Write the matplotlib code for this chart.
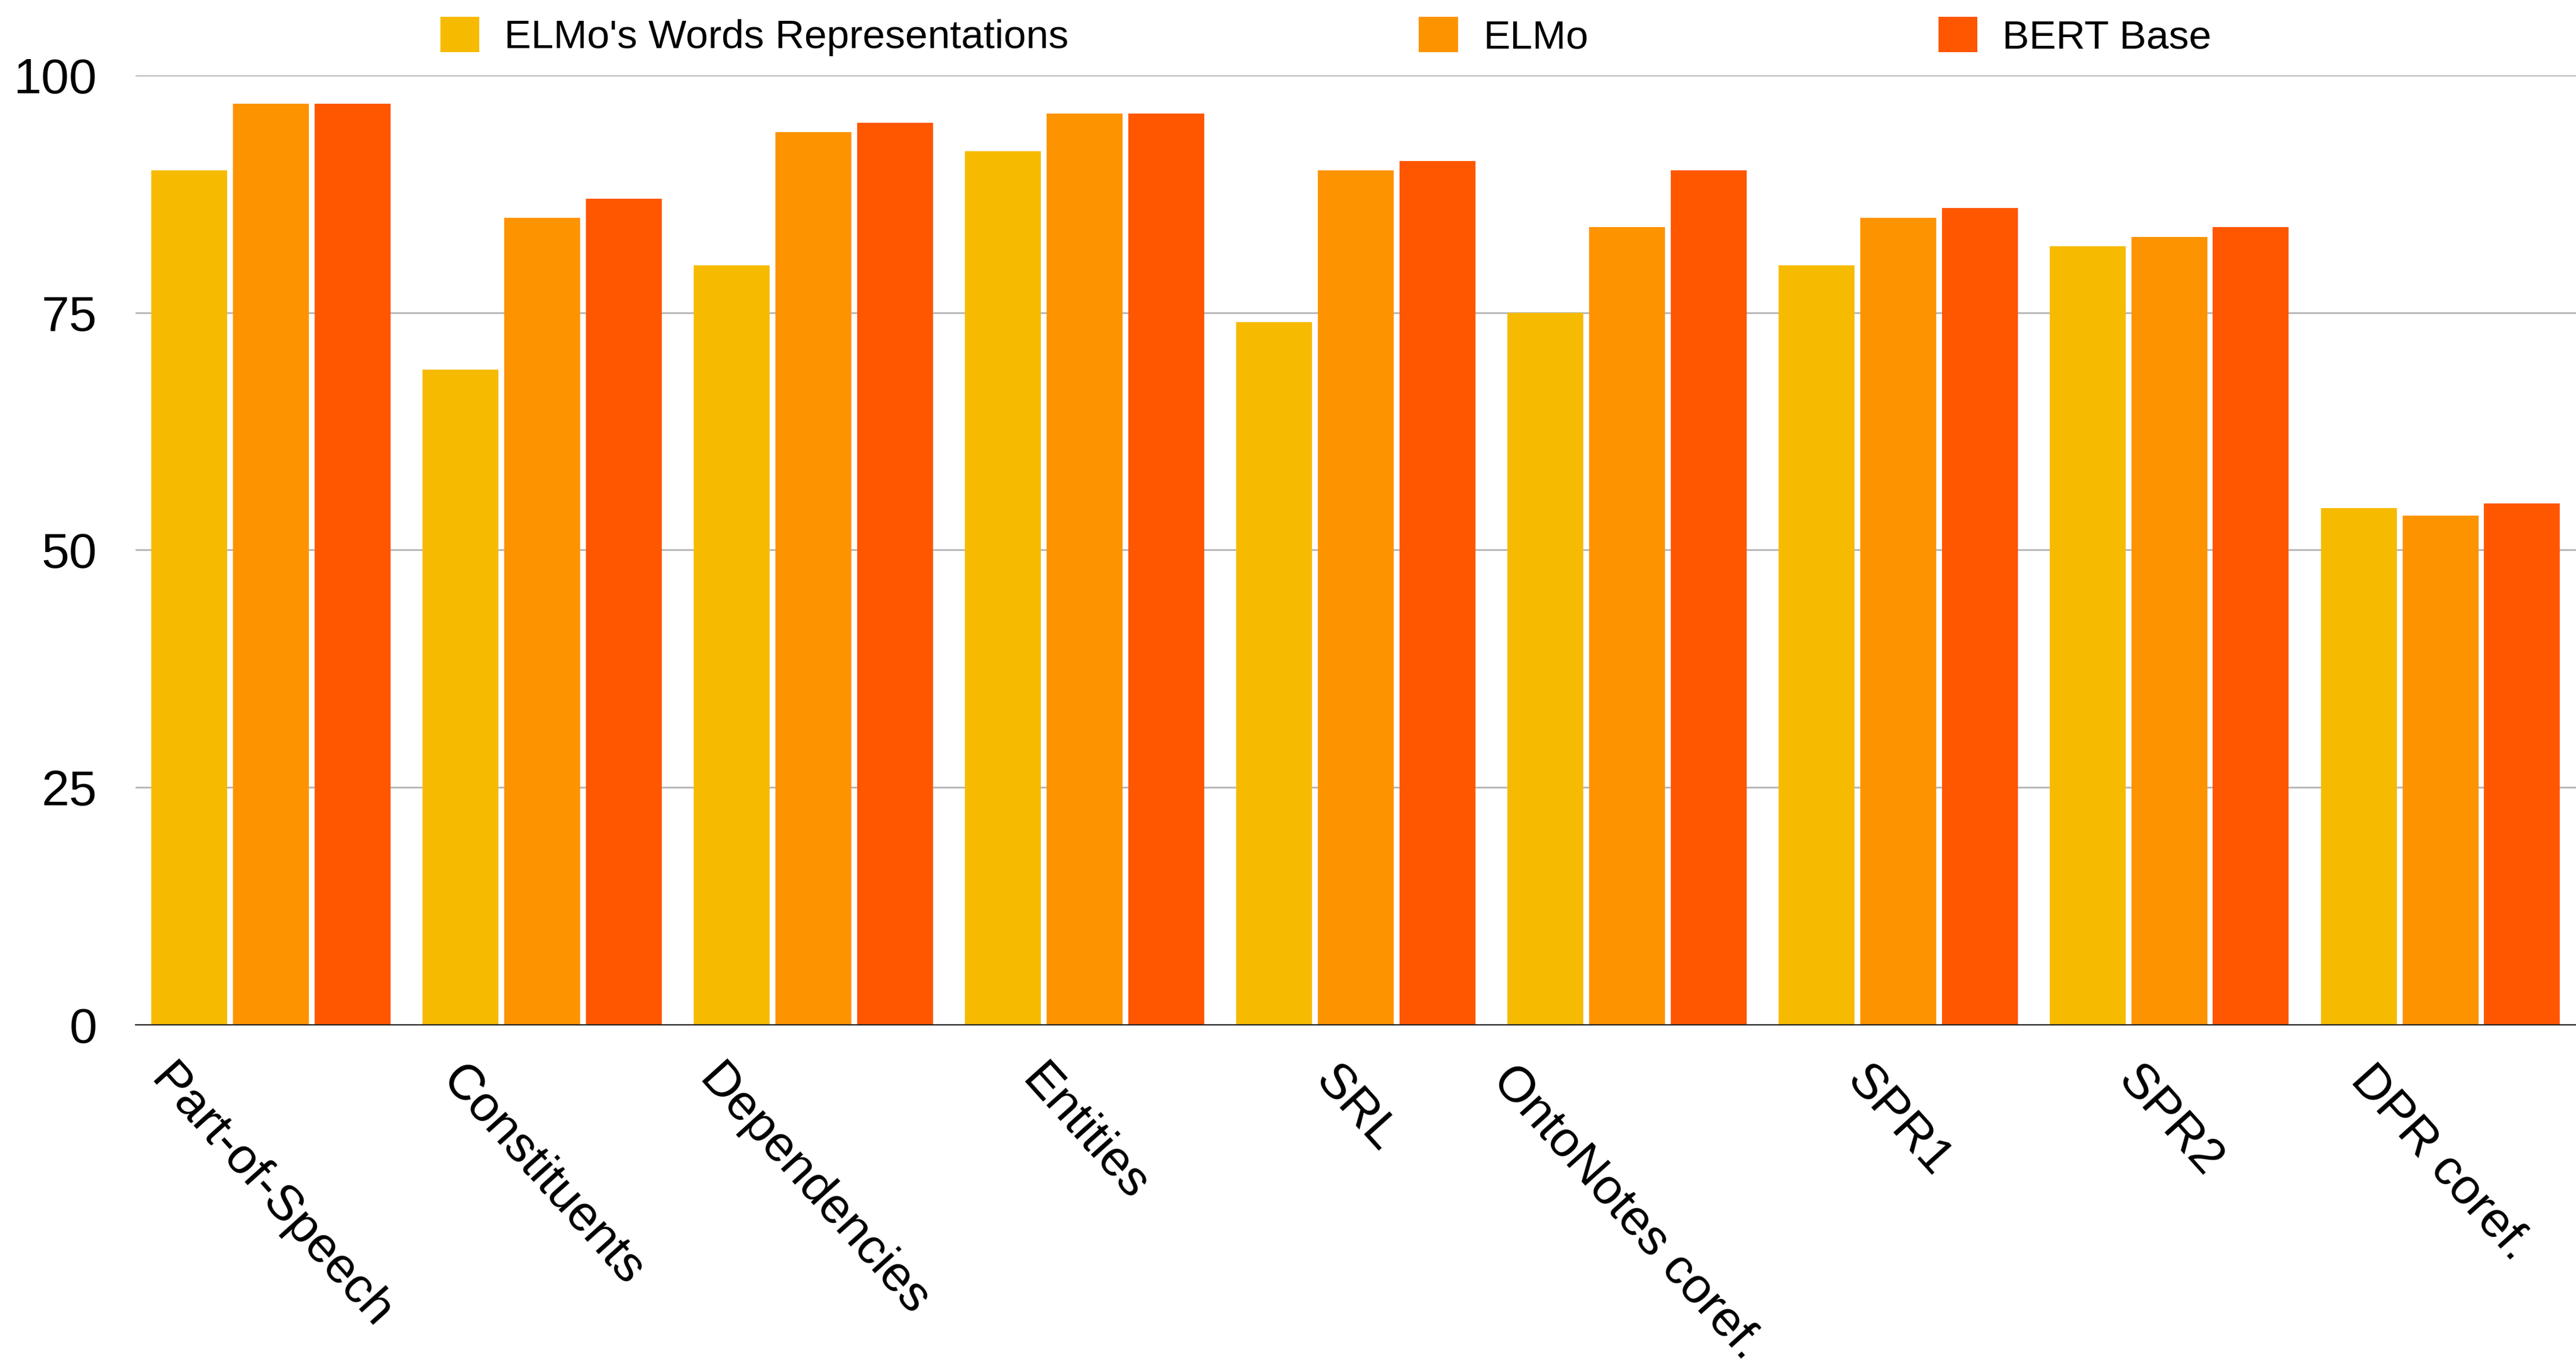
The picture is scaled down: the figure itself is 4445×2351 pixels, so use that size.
import numpy as np
import matplotlib
matplotlib.use('Agg')
import matplotlib.pyplot as plt

plt.rcParams['font.family'] = ['Liberation Sans', 'DejaVu Sans']

tasks = ['Part-of-Speech', 'Constituents', 'Dependencies', 'Entities', 'SRL',
         'OntoNotes coref.', 'SPR1', 'SPR2', 'DPR coref.']
series_names = ["ELMo's Words Representations", 'ELMo', 'BERT Base']
elmo_lex = [90.0, 69.0, 80.0, 92.0, 74.0, 75.0, 80.0, 82.0, 54.4]
elmo_full = [97.0, 85.0, 94.0, 96.0, 90.0, 84.0, 85.0, 83.0, 53.6]
bert_base = [97.0, 87.0, 95.0, 96.0, 91.0, 90.0, 86.0, 84.0, 54.9]
y_ticks = [0, 25, 50, 75, 100]

colors = ['#F6BB00', '#FE9300', '#FF5600']

fig = plt.figure(figsize=(44.45, 23.51), dpi=100)
ax = fig.add_axes([0.0526, 0.2476, 0.9474, 0.6971])

x = np.arange(len(tasks))
width = 0.28
step = 0.301
for k, vals in enumerate([elmo_lex, elmo_full, bert_base]):
    ax.bar(x + (k - 1) * step, vals, width, color=colors[k], label=series_names[k],
           linewidth=0, zorder=2)

ax.set_xlim(-0.5, len(tasks) - 0.5)
ax.set_ylim(0, 100)
ax.set_yticks(y_ticks)
ax.set_xticks(x)
ax.set_xticklabels(tasks, rotation=-48, ha='center', va='top', fontsize=62)
ax.tick_params(axis='y', length=0, pad=48, labelsize=62)
ax.tick_params(axis='x', length=0, pad=40)

ax.grid(axis='y', color='#B8B8B8', linewidth=2.2)
ax.set_axisbelow(True)
for side in ['top', 'right', 'left']:
    ax.spines[side].set_visible(False)
ax.spines['bottom'].set_color('#222222')
ax.spines['bottom'].set_linewidth(1.6)
ax.spines['bottom'].set_zorder(3)

leg = fig.legend(loc='upper left', bbox_to_anchor=(760 / 4445, 1 - 29 / 2351),
                 ncol=3, frameon=False, fontsize=50, handlelength=0.97,
                 handleheight=0.97, handletextpad=0.62, columnspacing=8.7,
                 borderpad=0, borderaxespad=0)

fig.savefig('out.png', dpi=100, facecolor='white')
